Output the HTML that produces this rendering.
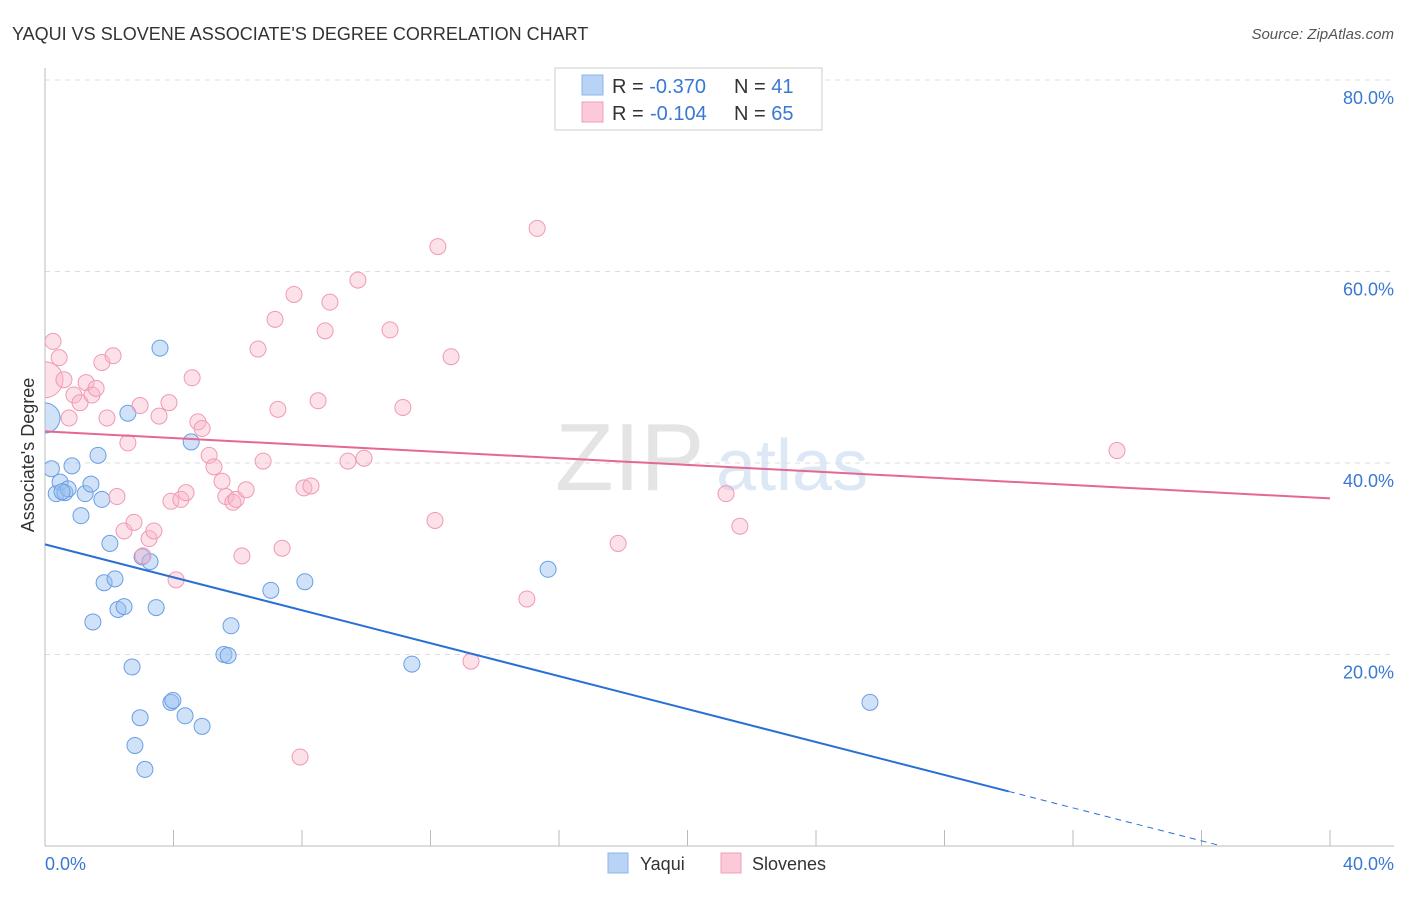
<!DOCTYPE html>
<html><head><meta charset="utf-8"><style>
body{margin:0;background:#fff;font-family:"Liberation Sans",sans-serif;}
svg text{font-family:"Liberation Sans",sans-serif;}
</style></head><body>
<svg id="c" width="1406" height="892">
<defs><clipPath id="plot"><rect x="45" y="60" width="1360" height="790"/></clipPath></defs>
<text x="12" y="40" font-size="18" fill="#333">YAQUI VS SLOVENE ASSOCIATE'S DEGREE CORRELATION CHART</text>
<text x="1394" y="39" font-size="15" fill="#555" font-style="italic" text-anchor="end">Source: ZipAtlas.com</text>
<text x="555" y="490" font-size="96" fill="#e4e4e4" font-family="Liberation Serif">ZIP</text>
<text x="716" y="490" font-size="72" fill="#dce8f5">atlas</text>
<g id="grid"></g><g id="axes"></g><g id="pts" clip-path="url(#plot)"></g><g id="lines"></g>
<text transform="translate(34,455) rotate(-90)" font-size="18" fill="#333" text-anchor="middle">Associate's Degree</text>
<text x="45" y="870" font-size="18" fill="#3a78d4">0.0%</text>
<text x="1394" y="870" font-size="18" fill="#3a78d4" text-anchor="end">40.0%</text>
<g>
<rect x="555" y="68" width="267" height="62" fill="#fff" stroke="#ccc"/>
<rect x="582" y="75" width="21" height="20" fill="#b8d3f5" stroke="#8db4ea"/>
<rect x="582" y="102" width="21" height="20" fill="#fcc9d8" stroke="#f0a0b8"/>
<text x="612" y="93" font-size="20" fill="#333">R = <tspan fill="#3a78d4">-0.370</tspan><tspan x="734">N = </tspan><tspan fill="#3a78d4">41</tspan></text>
<text x="612" y="120" font-size="20" fill="#333">R = <tspan fill="#3a78d4" x="650">-0.104</tspan><tspan x="734">N = </tspan><tspan fill="#3a78d4">65</tspan></text>
</g>
<g>
<rect x="608" y="853" width="20" height="20" fill="#b8d3f5" stroke="#8db4ea"/>
<text x="640" y="870" font-size="18" fill="#333">Yaqui</text>
<rect x="721" y="853" width="20" height="20" fill="#fcc9d8" stroke="#f0a0b8"/>
<text x="752" y="870" font-size="18" fill="#333">Slovenes</text>
</g>
</svg>
<script>
const yTicks=[20,40,60,80];
const xTicks=[0,4,8,12,16,20,24,28,32,36,40];
const yaquiX=[0,0.2,0.35,0.47,0.62,0.72,0.84,1.12,1.25,1.43,1.49,1.65,1.77,1.84,2.02,2.18,2.27,2.46,2.58,2.71,2.96,2.80,3.02,3.11,3.27,3.46,3.58,3.92,3.98,4.36,4.55,4.89,5.57,5.70,5.79,7.03,8.09,11.42,15.66,25.68,0.53];
const yaquiY=[44.7,39.4,36.8,38.0,36.9,37.3,39.7,34.5,36.8,37.8,23.4,40.8,36.2,27.5,31.6,27.9,24.7,25.0,45.2,18.7,13.4,10.5,30.2,8.0,29.7,24.9,52.0,15.0,15.2,13.6,42.2,12.5,20.0,19.9,23.0,26.7,27.6,19.0,28.9,15.0,37.0];
const sloveneX=[0,0.25,0.44,0.59,0.75,0.90,1.09,1.28,1.46,1.59,1.77,1.93,2.12,2.24,2.46,2.58,2.77,2.96,3.05,3.24,3.39,3.55,3.86,3.92,4.08,4.23,4.39,4.58,4.76,4.89,5.11,5.26,5.51,5.63,5.85,5.95,6.13,6.26,6.63,6.79,7.16,7.25,7.38,7.75,8.06,8.28,8.50,8.72,8.87,9.43,9.74,9.93,10.74,11.14,12.14,12.23,12.64,13.26,15.00,15.32,17.84,21.20,21.63,33.37,7.94];
const sloveneY=[48.7,52.7,51.0,48.7,44.7,47.1,46.3,48.4,47.1,47.8,50.5,44.7,51.2,36.5,32.9,42.1,33.8,46.0,30.3,32.1,32.9,44.9,46.3,36.0,27.8,36.2,36.9,48.9,44.3,43.6,40.8,39.6,38.1,36.5,35.9,36.2,30.3,37.2,51.9,40.2,55.0,45.6,31.1,57.6,37.4,37.6,46.5,53.8,56.8,40.2,59.1,40.5,53.9,45.8,34.0,62.6,51.1,19.3,25.8,64.5,31.6,36.8,33.4,41.3,9.3];
const X=v=>45+v*32.125, Y=v=>846-v*9.575;
const NS="http://www.w3.org/2000/svg";
function mk(t,a,p){const e=document.createElementNS(NS,t);for(const k in a)e.setAttribute(k,a[k]);p.appendChild(e);return e;}
const grid=document.getElementById('grid'),axes=document.getElementById('axes');
yTicks.forEach(t=>{
 const l=mk('line',{x1:45,x2:1394,y1:Y(t),y2:Y(t),stroke:'#ddd','stroke-dasharray':'5,5'},grid);
 
 
 const tx=mk('text',{x:1394,y:Y(t)+24,'font-size':18,fill:'#3a78d4','text-anchor':'end'},grid);
 tx.textContent=t.toFixed(1)+'%';
 
 
});
const ya=mk('line',{x1:45,x2:45,y1:68,y2:846,stroke:'#bbb'},axes);


const xa=mk('line',{x1:45,x2:1394,y1:846,y2:846,stroke:'#bbb'},axes);


xTicks.forEach(t=>{
 const l=mk('line',{x1:X(t),x2:X(t),y1:830,y2:846,stroke:'#bbb'},axes);
 
 
});
const pts=document.getElementById('pts');
yaquiX.forEach((x,i)=>{
 const c=mk('circle',{cx:X(x),cy:Y(yaquiY[i]),r:(i===0?15:8),fill:'rgba(150,190,240,0.45)',stroke:'#6a9ee6','stroke-width':1},pts);
 
 
});
sloveneX.forEach((x,i)=>{
 const c=mk('circle',{cx:X(x),cy:Y(sloveneY[i]),r:(i===0?18:8),fill:'rgba(250,180,200,0.4)',stroke:'#ef9ab4','stroke-width':1},pts);
 
 
});
const blueA=31.5, blueB=-0.86, pinkA=43.3, pinkB=-0.175;
const lines=document.getElementById('lines');
let l=mk('line',{x1:X(0),y1:Y(blueA),x2:X(30),y2:Y(blueA+blueB*30),stroke:'#2a6fd6','stroke-width':2},lines);


l=mk('line',{x1:X(30),y1:Y(blueA+blueB*30),x2:X(36.6),y2:Y(blueA+blueB*36.6),stroke:'#2a6fd6','stroke-width':1,'stroke-dasharray':'6,5'},lines);


l=mk('line',{x1:X(0),y1:Y(pinkA),x2:X(40),y2:Y(pinkA+pinkB*40),stroke:'#e4688f','stroke-width':2},lines);


</script>
</body></html>
